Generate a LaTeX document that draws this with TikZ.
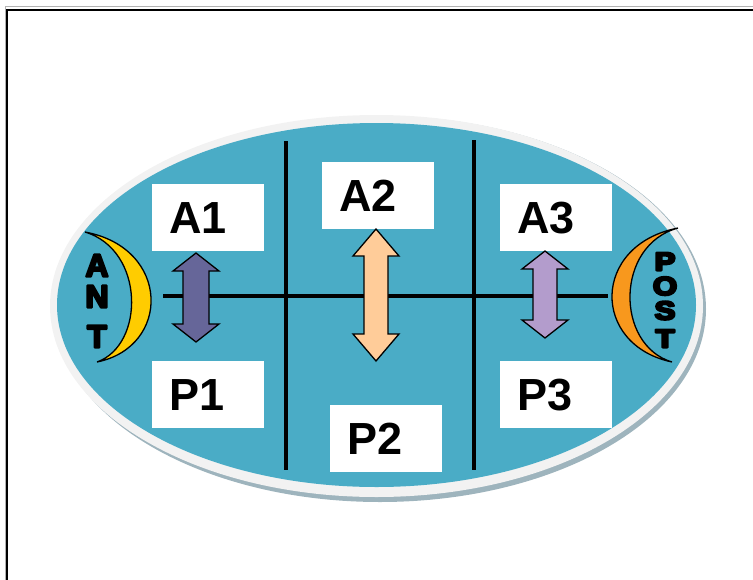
\documentclass[tikz,border=0pt]{standalone}
\usepackage{fontspec}
\setmainfont{Liberation Sans}
\newfontfamily\heavy{Liberation Sans}[UprightFont={* Bold}]
\newcommand\fatletter[1]{\special{pdf:literal direct 0 G 2 Tr 2.2 w 1 j}#1\special{pdf:literal direct 0 Tr}}
\definecolor{ovalblue}{RGB}{74,172,198}
\definecolor{rimgray}{RGB}{242,242,242}
\definecolor{shadowgray}{RGB}{158,180,189}
\definecolor{arrpurple}{RGB}{102,102,153}
\definecolor{arrpeach}{RGB}{255,204,153}
\definecolor{arrlav}{RGB}{179,156,204}
\definecolor{moonyellow}{RGB}{255,204,0}
\definecolor{moonorange}{RGB}{248,152,29}
\newcommand\mydblarrow[6]{% color, cx, top, bottom, head length, shaft half width
  \filldraw[fill=#1, draw=black, line width=1.3pt, line join=miter]
    (#2,#3) -- ++(23,#5) -- (#2+#6,#3+#5) -- (#2+#6,#4-#5) -- (#2+23,#4-#5)
    -- (#2,#4) -- (#2-23,#4-#5) -- (#2-#6,#4-#5) -- (#2-#6,#3+#5) -- (#2-23,#3+#5) -- cycle;}
\begin{document}
\begin{tikzpicture}[x=1pt,y=-1pt,
  lbl/.style={fill=white, minimum width=112pt, minimum height=67pt, inner xsep=17pt, inner ysep=0pt,
    text width=78pt, align=left, font=\fontsize{45}{50}\selectfont\bfseries},
  letA/.style={font=\heavy\fontsize{32}{32}\selectfont, inner sep=0pt, text height=23pt, text depth=0pt},
  letP/.style={font=\heavy\fontsize{26}{26}\selectfont, inner sep=0pt, xscale=1.2, text height=19pt, text depth=0pt},
  divider/.style={line width=4pt}]
\useasboundingbox (0,0) rectangle (753,579);
% frame
\draw[gray!60, line width=1pt] (5,800) -- (5,6.5) -- (800,6.5);
\draw[black, line width=2pt] (7,800) -- (7,9.5) -- (800,9.5);
% oval
\fill[shadowgray] (380,309) ellipse [x radius=326pt, y radius=193pt];
\fill[rimgray] (376.5,306) ellipse [x radius=326.5pt, y radius=191pt];
\fill[ovalblue] (376.5,305) ellipse [x radius=319.5pt, y radius=182pt];
% dividers
\coordinate (hl) at (163,295.5);
\coordinate (hr) at (608,295.5);
\coordinate (v1t) at (286,141);
\coordinate (v1b) at (286,470);
\coordinate (v2t) at (474,140);
\coordinate (v2b) at (474,470);
\draw[divider] (hl) -- (hr);
\draw[divider] (v1t) -- (v1b);
\draw[divider] (v2t) -- (v2b);
% boxes
\node[lbl, anchor=north west] (a1) at (152,184) {A1};
\node[lbl, anchor=north west] (p1) at (152,361) {P1};
\node[lbl, anchor=north west] (a2) at (322,162) {A2};
\node[lbl, anchor=north west] (p2) at (330,405) {P2};
\node[lbl, anchor=north west] (a3) at (500,184) {A3};
\node[lbl, anchor=north west] (p3) at (500,361) {P3};
% arrows
\mydblarrow{arrpurple}{196}{253}{342}{18}{13}
\mydblarrow{arrpeach}{376}{229}{361}{27}{12}
\mydblarrow{arrlav}{545}{251}{338}{18}{12}
% crescents
\filldraw[fill=moonyellow, draw=black, line width=1.3pt]
  (85,232) .. controls (171,248) and (171,347) .. (97,362)
  .. controls (145,345) and (145,250) .. cycle;
\filldraw[fill=moonorange, draw=black, line width=1.3pt]
  (678,228) .. controls (591,245) and (591,345) .. (672,362)
  .. controls (615,345) and (615,245) .. cycle;
% letters
\node[letA] (antA) at (97,265) {\fatletter{A}};
\node[letA] (antN) at (97,296) {\fatletter{N}};
\node[letA] (antT) at (97,336) {\fatletter{T}};
\node[letP] (postP) at (665,261) {\fatletter{P}};
\node[letP] (postO) at (665,285.5) {\fatletter{O}};
\node[letP] (postS) at (665,310) {\fatletter{S}};
\node[letP] (postT) at (665,338) {\fatletter{T}};
\end{tikzpicture}
\end{document}
